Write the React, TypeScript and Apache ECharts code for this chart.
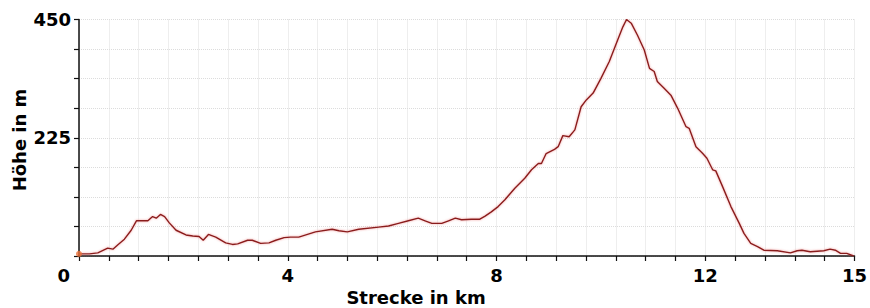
import React, { useEffect, useRef } from "react";
import * as echarts from "echarts";

// distance (km) and elevation (m) read from the profile
const distanceKm = [
  0.0, 0.2, 0.36, 0.55, 0.65, 0.74, 0.87, 1.0, 1.1, 1.22, 1.32, 1.41, 1.48, 1.56, 1.64, 1.73, 1.86,
  2.05, 2.18, 2.3, 2.38, 2.48, 2.62, 2.81, 2.94, 3.04, 3.23, 3.32, 3.48, 3.64, 3.77, 3.93, 4.05,
  4.21, 4.53, 4.85, 4.98, 5.14, 5.36, 5.74, 5.93, 6.12, 6.31, 6.5, 6.63, 6.76, 6.95, 7.08, 7.21,
  7.33, 7.52, 7.68, 7.78, 7.9, 8.03, 8.16, 8.35, 8.54, 8.67, 8.8, 8.86, 8.95, 9.11, 9.18, 9.27,
  9.39, 9.5, 9.62, 9.72, 9.85, 10.0, 10.16, 10.32, 10.42, 10.49, 10.58, 10.7, 10.83, 10.93, 11.02,
  11.08, 11.21, 11.34, 11.47, 11.63, 11.69, 11.82, 11.95, 12.03, 12.14, 12.2, 12.33, 12.49, 12.65,
  12.74, 12.87, 13.0, 13.12, 13.38, 13.63, 13.76, 13.85, 14.01, 14.27, 14.39, 14.49, 14.59, 14.71,
  14.84,
];
const elevationM = [
  4, 4, 6, 15, 13, 21, 32, 49, 67, 67, 67, 75, 72, 79, 75, 63, 49,
  40, 38, 37, 30, 41, 36, 25, 22, 23, 30, 30, 24, 25, 30, 35, 36,
  36, 46, 51, 48, 46, 51, 55, 57, 62, 67, 72, 67, 62, 62, 67, 72,
  69, 70, 70, 76, 84, 94, 107, 129, 148, 164, 176, 176, 195, 203, 208, 229,
  227, 240, 284, 297, 310, 338, 370, 411, 436, 450, 443, 420, 392, 357, 351,
  332, 319, 306, 281, 246, 243, 208, 195, 186, 164, 162, 132, 94, 62,
  43, 24, 18, 11, 10, 6, 10, 11, 8, 10, 13, 11, 5, 5,
  0,
];

// x axis: one tick every 4/7 km, 26 ticks; labelled ticks
const KM_PER_TICK = 4 / 7;
const X_TICKS = 26;
const xTickLabels: Record<number, string> = { 7: "4", 14: "8", 21: "12", 26: "15" };
const Y_MAX = 450;
const Y_INTERVAL = 56.25;
const yTickLabels: Record<number, string> = { 225: "225", 450: "450" };

const FONT = "DejaVu Sans";

export default function App() {
  const ref = useRef<HTMLDivElement>(null);
  useEffect(() => {
    document.body.style.margin = "0";
    const chart = echarts.init(ref.current!, undefined, { renderer: "svg" });
    const data = distanceKm.map((d, i) => [d / KM_PER_TICK, elevationM[i]]);
    chart.setOption({
      animation: false,
      backgroundColor: "#ffffff",
      grid: { left: 79, right: 14, top: 19.5, bottom: 52, containLabel: false },
      xAxis: {
        type: "value",
        min: 0,
        max: X_TICKS,
        interval: 1,
        axisLine: { show: true, onZero: false, lineStyle: { color: "#111", width: 1.5 } },
        axisTick: { show: true, inside: false, length: 5, lineStyle: { color: "#111", width: 1.2 } },
        axisLabel: {
          show: true,
          margin: 10,
          color: "#000",
          fontFamily: FONT,
          fontWeight: "bold",
          fontSize: 18,
          showMinLabel: true,
          showMaxLabel: true,
          formatter: (v: number) => xTickLabels[Math.round(v)] ?? "",
        },
        splitLine: { show: true, lineStyle: { color: "#dcdcdc", width: 1, type: "dotted" } },
      },
      yAxis: {
        type: "value",
        min: 0,
        max: Y_MAX,
        interval: Y_INTERVAL,
        axisLine: { show: true, lineStyle: { color: "#111", width: 1.5 } },
        axisTick: { show: true, inside: false, length: 5, lineStyle: { color: "#111", width: 1.2 } },
        axisLabel: {
          show: true,
          margin: 8,
          color: "#000",
          fontFamily: FONT,
          fontWeight: "bold",
          fontSize: 18,
          formatter: (v: number) => yTickLabels[Math.round(v)] ?? "",
        },
        splitLine: { show: true, lineStyle: { color: "#dcdcdc", width: 1, type: "dotted" } },
      },
      graphic: [
        {
          type: "text",
          x: 70,
          y: 275,
          style: {
            text: "0",
            align: "right",
            verticalAlign: "middle",
            fontFamily: FONT,
            fontWeight: "bold",
            fontSize: 18,
            fill: "#000",
          },
        },
        {
          type: "text",
          x: 416,
          y: 297,
          style: {
            text: "Strecke in km",
            align: "center",
            verticalAlign: "middle",
            fontFamily: FONT,
            fontWeight: "bold",
            fontSize: 18,
            fill: "#000",
          },
        },
        {
          type: "text",
          x: 19,
          y: 140,
          rotation: Math.PI / 2,
          style: {
            text: "Höhe in m",
            align: "center",
            verticalAlign: "middle",
            fontFamily: FONT,
            fontWeight: "bold",
            fontSize: 18,
            fill: "#000",
          },
        },
      ],
      series: [
        {
          type: "line",
          data,
          showSymbol: false,
          symbol: "none",
          lineStyle: {
            color: "#8a1c1c",
            width: 1.4,
            shadowColor: "rgba(230,90,90,0.6)",
            shadowBlur: 2,
          },
          z: 3,
        },
        {
          type: "scatter",
          data: [data[0]],
          symbol: "circle",
          symbolSize: 6,
          itemStyle: { color: "#e8703a" },
          z: 4,
        },
      ],
    });
    return () => chart.dispose();
  }, []);
  return <div ref={ref} style={{ width: 870, height: 308 }} />;
}
